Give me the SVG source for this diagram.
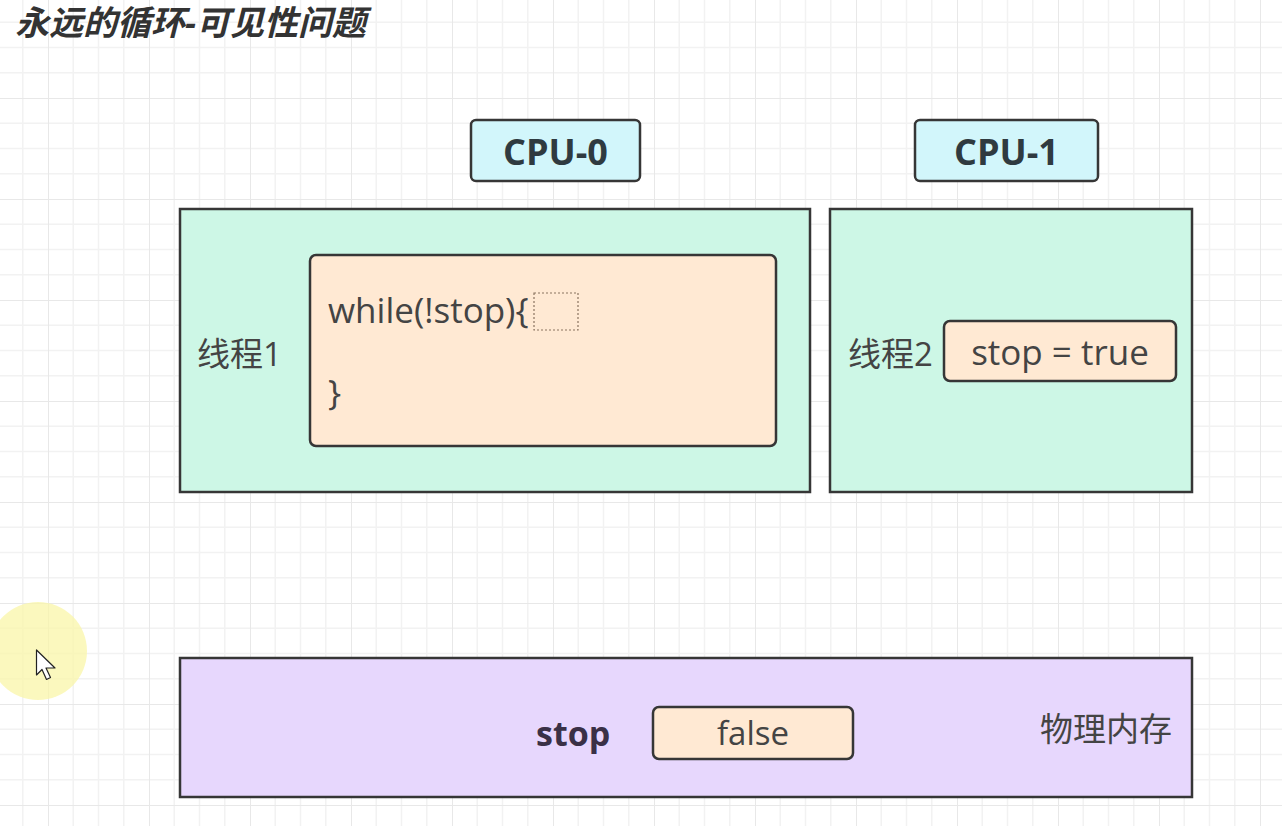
<svg xmlns="http://www.w3.org/2000/svg" width="1282" height="826" viewBox="0 0 1282 826">
<defs>
<pattern id="grid" patternUnits="userSpaceOnUse" x="48" y="-3" width="101" height="101">
<path d="M25.25 0V101M50.5 0V101M75.75 0V101M0 25.25H101M0 50.5H101M0 75.75H101" stroke="#f2f2f2" stroke-width="1.5" fill="none"/>
<path d="M0 0V101M0 0H101" stroke="#e8e8e8" stroke-width="2" fill="none"/>
</pattern>
<style>
.box{stroke:#363636;stroke-width:2.5}
.cpu{fill:#d2f6fb}
.core{fill:#cdf7e6}
.code{fill:#ffe9d3}
.mem{fill:#e7d7fd}
.t{font-family:"Open Sans","Noto Sans CJK SC",sans-serif;fill:#444}
.b{font-weight:bold;fill:#2f3a40}
</style>
</defs>
<rect width="1282" height="826" fill="#fff"/>
<rect width="1282" height="826" fill="url(#grid)"/>
<text class="t" x="15" y="35" font-size="34" font-weight="bold" font-style="italic" style="fill:#333">永远的循环-可见性问题</text>
<g id="cpu0"><rect class="box cpu" x="471" y="120" width="169" height="61" rx="5"/><text class="t b" x="555.5" y="165" font-size="36" text-anchor="middle">CPU-0</text></g>
<g id="cpu1"><rect class="box cpu" x="915" y="120" width="183" height="61" rx="5"/><text class="t b" x="1006.5" y="165" font-size="36" text-anchor="middle">CPU-1</text></g>
<g id="core0"><rect class="box core" x="180" y="209" width="630" height="283"/><text class="t" x="197" y="366" font-size="33">线程1</text></g>
<g id="loop"><rect class="box code" x="310" y="255" width="466" height="191" rx="6"/><text class="t" x="328" y="323" font-size="35">while(!stop){</text><rect x="534" y="293" width="44" height="37" fill="none" stroke="#8a7460" stroke-width="1.2" stroke-dasharray="2 2"/><text class="t" x="328" y="405" font-size="35">}</text></g>
<g id="core1"><rect class="box core" x="830" y="209" width="362" height="283"/><text class="t" x="848" y="366" font-size="33">线程2</text></g>
<g id="assign"><rect class="box code" x="944" y="321" width="232" height="60" rx="6"/><text class="t" x="1060" y="365" font-size="35" text-anchor="middle">stop = true</text></g>
<g id="memory"><rect class="box mem" x="180" y="658" width="1012" height="139"/><text class="t b" x="536" y="746" font-size="34" style="fill:#3a3046">stop</text><text class="t" x="1040" y="741" font-size="33">物理内存</text></g>
<g id="value"><rect class="box code" x="653" y="707" width="200" height="52" rx="6"/><text class="t" x="753" y="745" font-size="33" text-anchor="middle">false</text></g>
<g id="connectors"></g>
<circle cx="38" cy="651" r="49" fill="#faf5a8" opacity="0.75"/>
<path d="M36.5 650V675L42 669.5L46.5 679.5L50.5 677.5L46 668H55Z" fill="#fff" stroke="#222" stroke-width="1.2" stroke-linejoin="round"/>
</svg>
